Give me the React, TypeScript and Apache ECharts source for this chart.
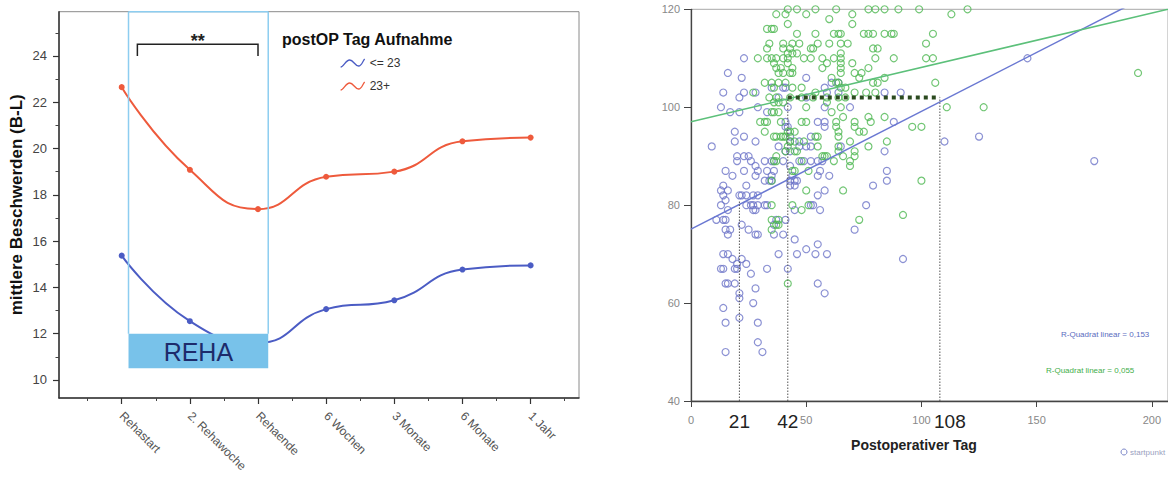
import React, { useEffect, useRef } from 'react';
import * as echarts from 'echarts';

// ---------- Left chart data ----------
const categories = ['Rehastart', '2. Rehawoche', 'Rehaende', '6 Wochen', '3 Monate', '6 Monate', '1 Jahr'];
const seriesLow = [15.37, 12.54, 11.6, 13.06, 13.44, 14.77, 14.95]; // <= 23
const seriesHigh = [22.65, 19.08, 17.38, 18.78, 19.0, 20.31, 20.47]; // 23+
const legendNames = ['<= 23', '23+'];
const leftYTicks = [10, 12, 14, 16, 18, 20, 22, 24];
const leftYMinor = [11, 13, 15, 17, 19, 21, 23, 25];
const leftXTicks = [0, 1, 2, 3, 4, 5, 6];
const leftXMinor = [-0.5, 0.5, 1.5, 2.5, 3.5, 4.5, 5.5, 6.5];
const rehaBox = [[0.1, 2.15, 10.5, 12]];
const rehaLabel = 'REHA';
const sigBracket = [[0.23, 2.0, 24.0, 24.5]];
const sigLabel = '**';

// ---------- Right chart data ----------
const rightXTicks = [0, 50, 100, 150, 200];
const rightMarkDays = [21, 42, 108];
const refVerticalTops = [81, 102, 102];
const refHorizontal = [[42, 102], [108, 102]];
const blueFit = [[0, 75.1], [207, 124.9]];
const greenFit = [[0, 97.05], [207, 120]];
const rSquaredBlue = 'R-Quadrat linear = 0,153';
const rSquaredGreen = 'R-Quadrat linear = 0,055';

const greenPoints = [
  [42,120],[46,120],[54,120],[63,120],[77,120],[80,120],[84,120],[90,120],[99,120],[120,120],
  [37,119],[41,119],[50,119],[70,119],[113,119],
  [60,118],[42,117],[70,117],
  [33,116],[35,116],[36,116],
  [46,115],[54,115],[62,115],[64,115],[65,115],[75,115],[77,115],[79,115],[84,115],[87,115],[88,115],[105,115],
  [34,113],[40,113],[44,113],[47,113],[55,113],[60,113],[65,113],[68,113],[102,113],
  [33,112],[40,112],[43,112],[52,112],[53,112],[79,112],[81,112],
  [42,111],[44,111],[46,111],[65,111],
  [29,110],[33,110],[35,110],[37,110],[40,110],[42,110],[49,110],[52,110],[57,110],[62,110],[65,110],[80,110],[88,110],[102,110],[105,110],
  [36,109],[42,109],[59,109],[65,109],[70,109],
  [37,108],[39,108],[44,108],[57,108],[65,108],[77,108],
  [38,107],[40,107],[43,107],[44,107],[65,107],[71,107],[74,107],[194,107],
  [61,106],[73,106],[84,106],
  [32,105],[35,105],[38,105],[41,105],[63,105],[64,105],[79,105],[81,105],[106,105],
  [36,104],[44,104],[48,104],[65,104],[67,104],
  [27,103],[54,103],[71,103],[76,103],[80,103],
  [34,102],[37,102],[43,102],[48,102],[53,102],[59,102],[64,102],[67,102],
  [36,101],[38,101],[40,101],[59,101],
  [50,100],[65,100],[111,100],[127,100],
  [35,99],[36,99],[38,99],[61,99],
  [66,98],[77,98],[84,98],
  [30,97],[32,97],[33,97],[39,97],[48,97],[50,97],[63,97],[71,97],[78,97],
  [63,96],[71,96],[96,96],[100,96],
  [32,95],[42,95],[43,95],[45,95],[64,95],[73,95],[75,95],
  [36,94],[37,94],[39,94],[40,94],[41,94],[54,94],[55,94],[64,94],
  [43,93],[45,93],[49,93],[69,93],[85,93],
  [42,92],[55,92],[64,92],[77,92],
  [41,91],[45,91],[46,91],[64,91],[71,91],
  [37,90],[57,90],[58,90],[59,90],[66,90],[71,90],
  [36,89],[37,89],[48,89],[62,89],[69,89],
  [69,88],[44,87],[45,87],[51,87],
  [35,85],[100,85],[50,83],[66,83],
  [35,80],[44,80],[51,80],[48,79],[92,78],
  [35,77],[38,77],[73,77],[37,76],[38,76],[35,75],[42,64]
];

const bluePoints = [
  [23,110],[146,110],[16,107],[22,106],[50,106],[61,105],[64,105],
  [35,104],[40,104],[41,104],[58,104],
  [14,103],[23,103],[28,103],[59,103],[64,103],[84,103],[91,103],
  [21,102],[38,102],[50,102],
  [13,100],[29,100],[42,100],[58,100],[69,100],
  [17,99],[21,99],[33,99],
  [41,97],[55,97],[58,97],[88,97],
  [41,96],[42,96],[58,96],[19,95],
  [23,94],[43,94],[52,94],[125,94],
  [19,93],[28,93],[43,93],[47,93],[110,93],
  [9,92],[38,92],[47,92],[50,92],[52,92],[65,92],
  [41,91],[43,91],[84,91],
  [20,90],[23,90],[25,90],
  [20,89],[26,89],[32,89],[35,89],[36,89],[40,89],[47,89],[49,89],[52,89],[55,89],[57,89],[175,89],
  [28,88],[43,88],
  [15,87],[23,87],[29,87],[33,87],[36,87],[56,87],[85,87],
  [18,86],[28,86],[35,86],[44,86],[55,86],[60,86],
  [32,85],[34,85],[35,85],[43,85],[45,85],[46,85],[85,85],
  [14,84],[24,84],[43,84],[45,84],[79,84],
  [13,83],[16,83],[58,83],
  [14,82],[21,82],[22,82],[24,82],[27,82],[29,82],[55,82],
  [15,81],
  [13,80],[24,80],[26,80],[27,80],[29,80],[32,80],[33,80],[52,80],[53,80],[76,80],
  [16,79],[27,79],[28,79],[45,79],[56,79],
  [11,77],[14,77],[15,77],[37,77],[41,77],
  [22,76],[36,76],
  [15,75],[17,75],[25,75],[71,75],
  [16,74],[28,74],[29,74],[36,74],[40,74],
  [45,73],[55,72],[50,71],
  [14,70],[16,70],[38,70],[46,70],[54,70],[59,70],
  [18,69],[22,69],[92,69],
  [20,68],[24,68],
  [13,67],[14,67],[19,67],[20,67],[33,67],[42,67],
  [26,66],
  [15,64],[16,64],[19,64],[55,64],
  [28,63],[21,62],[58,62],[21,61],[27,60],[14,59],[21,57],[15,56],[29,56],[29,52],[15,50],[31,50]
];

const FONT = '"Liberation Sans", Arial, sans-serif';
const RED = '#ee5a3c';
const BLUE = '#4b5cc4';
const SC_BLUE = '#6e76c8';
const SC_GREEN = '#4fb852';

const wavePath = 'path://M0,9 C3,9 5,2 9,2 C13,2 14,8 18,8 C21,8 22,3 24,1';

function buildOption(): any {
  return {
    animation: false,
    backgroundColor: '#ffffff',
    textStyle: { fontFamily: FONT },
    title: {
      text: 'postOP Tag Aufnahme',
      left: 277,
      top: 26,
      textStyle: { fontSize: 16, fontWeight: 'bold', color: '#111', fontFamily: FONT }
    },
    legend: {
      data: [
        { name: legendNames[0], icon: wavePath, itemStyle: { color: 'rgba(0,0,0,0)', borderColor: BLUE, borderWidth: 1.3 } },
        { name: legendNames[1], icon: wavePath, itemStyle: { color: 'rgba(0,0,0,0)', borderColor: RED, borderWidth: 1.3 } }
      ],
      orient: 'vertical',
      left: 335,
      top: 52,
      itemGap: 11,
      itemWidth: 24,
      itemHeight: 10,
      textStyle: { fontSize: 12, color: '#333', fontFamily: FONT }
    },
    grid: [
      { left: 59, top: 11.7, width: 520, height: 386.3, show: true, borderColor: '#8a8a8a', borderWidth: 1, backgroundColor: 'transparent' },
      { left: 691, top: 9.3, width: 477, height: 391.7, show: true, borderColor: '#a8a8a8', borderWidth: 1, backgroundColor: 'transparent' }
    ],
    xAxis: [
      {
        type: 'value', gridIndex: 0, min: -0.92, max: 6.71, position: 'bottom',
        splitLine: { show: false },
        axisLine: { show: true, onZero: false, lineStyle: { color: '#333', width: 1.5 } },
        axisTick: { show: true, customValues: leftXTicks, length: 6, lineStyle: { color: '#333', width: 1.2 } },
        axisLabel: {
          customValues: leftXTicks, rotate: -45, margin: 16, fontSize: 12, color: '#555',
          formatter: (v: number) => categories[Math.round(v)] ?? ''
        }
      },
      {
        type: 'value', gridIndex: 0, min: -0.92, max: 6.71, position: 'bottom',
        splitLine: { show: false },
        axisLine: { show: false, onZero: false },
        axisTick: { show: true, customValues: leftXMinor, length: 3, lineStyle: { color: '#444', width: 1 } },
        axisLabel: { show: false }
      },
      {
        type: 'value', gridIndex: 1, min: 0, max: 207, position: 'bottom',
        splitLine: { show: false },
        axisLine: { show: true, onZero: false, lineStyle: { color: '#444', width: 1.3 } },
        axisTick: { show: true, customValues: rightXTicks, length: 6, lineStyle: { color: '#444' } },
        axisLabel: { customValues: rightXTicks, fontSize: 11, color: '#888', margin: 13 },
        name: 'Postoperativer Tag',
        nameLocation: 'middle',
        nameGap: 37,
        nameTextStyle: { fontSize: 14, fontWeight: 'bold', color: '#222', padding: [0, 31, 0, 0] }
      },
      {
        type: 'value', gridIndex: 1, min: 0, max: 207, position: 'bottom',
        splitLine: { show: false },
        axisLine: { show: false, onZero: false },
        axisTick: { show: false },
        axisLabel: {
          customValues: rightMarkDays, fontSize: 19, color: '#222', margin: 11,
          formatter: (v: number) => (v > 100 ? '{s|' + v + '}' : String(v)),
          rich: { s: { fontSize: 19, color: '#222', padding: [0, 0, 0, 20] } }
        }
      }
    ],
    yAxis: [
      {
        type: 'value', gridIndex: 0, min: 9.22, max: 25.91, position: 'left',
        splitLine: { show: false },
        axisLine: { show: true, onZero: false, lineStyle: { color: '#333', width: 1.5 } },
        axisTick: { show: true, customValues: leftYTicks, length: 6, lineStyle: { color: '#333', width: 1.2 } },
        axisLabel: { customValues: leftYTicks, fontSize: 13, color: '#444', margin: 12 },
        name: 'mittlere Beschwerden (B-L)',
        nameLocation: 'middle',
        nameGap: 34,
        nameRotate: 90,
        nameTextStyle: { fontSize: 17, fontWeight: 'bold', color: '#111' }
      },
      {
        type: 'value', gridIndex: 0, min: 9.22, max: 25.91, position: 'left',
        splitLine: { show: false },
        axisLine: { show: false, onZero: false },
        axisTick: { show: true, customValues: leftYMinor, length: 3.5, lineStyle: { color: '#444', width: 1 } },
        axisLabel: { show: false }
      },
      {
        type: 'value', gridIndex: 1, min: 40, max: 120, interval: 20, position: 'left',
        splitLine: { show: false },
        axisLine: { show: true, onZero: false, lineStyle: { color: '#444', width: 1.3 } },
        axisTick: { show: true, length: 7, lineStyle: { color: '#444' } },
        axisLabel: { fontSize: 11, color: '#888', margin: 11 }
      }
    ],
    graphic: [
      { type: 'text', left: 1061, top: 330, style: { text: rSquaredBlue, fontSize: 8, fill: '#5a6cc0', fontFamily: FONT } },
      { type: 'text', left: 1046, top: 366, style: { text: rSquaredGreen, fontSize: 8, fill: '#3fae4a', fontFamily: FONT } },
      { type: 'circle', shape: { cx: 1124, cy: 452, r: 3 }, style: { fill: 'none', stroke: '#7a86c8', lineWidth: 1 } },
      { type: 'text', left: 1130, top: 448, style: { text: 'startpunkt', fontSize: 8, fill: '#9aa0c0', fontFamily: FONT } }
    ],
    series: [
      {
        name: legendNames[0], type: 'line', xAxisIndex: 0, yAxisIndex: 0,
        data: seriesLow.map((v, i) => [i, v]), smooth: 0.5,
        symbol: 'circle', symbolSize: 6, z: 3,
        itemStyle: { color: BLUE }, lineStyle: { color: BLUE, width: 2 }
      },
      {
        name: legendNames[1], type: 'line', xAxisIndex: 0, yAxisIndex: 0,
        data: seriesHigh.map((v, i) => [i, v]), smooth: 0.5,
        symbol: 'circle', symbolSize: 6, z: 3,
        itemStyle: { color: RED }, lineStyle: { color: RED, width: 2 }
      },
      {
        type: 'custom', xAxisIndex: 0, yAxisIndex: 0, z: 6, silent: true,
        data: rehaBox, encode: { x: [0, 1], y: [2, 3] },
        renderItem: (params: any, api: any) => {
          const x0 = api.value(0), x1 = api.value(1), y0 = api.value(2), y1 = api.value(3);
          const a = api.coord([x0, y1]);
          const b = api.coord([x1, y0]);
          const top = params.coordSys.y;
          const edge = { stroke: '#8dcdf0', lineWidth: 1.5 };
          return {
            type: 'group',
            children: [
              { type: 'line', shape: { x1: a[0], y1: top, x2: a[0], y2: a[1] }, style: edge },
              { type: 'line', shape: { x1: b[0], y1: top, x2: b[0], y2: a[1] }, style: edge },
              { type: 'line', shape: { x1: a[0], y1: top, x2: b[0], y2: top }, style: edge },
              { type: 'rect', shape: { x: a[0], y: a[1], width: b[0] - a[0], height: b[1] - a[1] }, style: { fill: '#78c2ea' } },
              {
                type: 'text',
                style: {
                  text: rehaLabel, x: (a[0] + b[0]) / 2, y: (a[1] + b[1]) / 2 + 1,
                  align: 'center', verticalAlign: 'middle', fontSize: 25, fill: '#1d2b6b', fontFamily: FONT
                }
              }
            ]
          };
        }
      },
      {
        type: 'custom', xAxisIndex: 0, yAxisIndex: 0, z: 6, silent: true,
        data: sigBracket, encode: { x: [0, 1], y: [2, 3] },
        renderItem: (params: any, api: any) => {
          const x0 = api.value(0), x1 = api.value(1), yb = api.value(2), yt = api.value(3);
          const p1 = api.coord([x0, yb]);
          const p2 = api.coord([x0, yt]);
          const p3 = api.coord([x1, yt]);
          const p4 = api.coord([x1, yb]);
          return {
            type: 'group',
            children: [
              { type: 'polyline', shape: { points: [p1, p2, p3, p4] }, style: { stroke: '#222', lineWidth: 1.5, fill: 'none' } },
              {
                type: 'text',
                style: {
                  text: sigLabel, x: (p2[0] + p3[0]) / 2, y: p2[1] + 6,
                  align: 'center', verticalAlign: 'bottom', fontSize: 18, fontWeight: 'bold', fill: '#222', fontFamily: FONT
                }
              }
            ]
          };
        }
      },
      // right chart
      {
        type: 'scatter', xAxisIndex: 2, yAxisIndex: 2, data: bluePoints,
        symbol: 'circle', symbolSize: 7, z: 2,
        itemStyle: { color: 'rgba(255,255,255,0)', borderColor: SC_BLUE, borderWidth: 1.2 }
      },
      {
        type: 'scatter', xAxisIndex: 2, yAxisIndex: 2, data: greenPoints,
        symbol: 'circle', symbolSize: 7, z: 2,
        itemStyle: { color: 'rgba(255,255,255,0)', borderColor: SC_GREEN, borderWidth: 1.2 }
      },
      {
        type: 'line', xAxisIndex: 2, yAxisIndex: 2, data: blueFit, symbol: 'none', z: 3,
        lineStyle: { color: '#6a78d2', width: 1.5 }
      },
      {
        type: 'line', xAxisIndex: 2, yAxisIndex: 2, data: greenFit, symbol: 'none', z: 3,
        lineStyle: { color: '#5cc07a', width: 1.5 }
      },
      ...rightMarkDays.map((d, i) => ({
        type: 'line', xAxisIndex: 2, yAxisIndex: 2, data: [[d, 40], [d, refVerticalTops[i]]],
        symbol: 'none', z: 4,
        lineStyle: { color: '#555', width: 1, type: [1.5, 1.5] }
      })),
      {
        type: 'line', xAxisIndex: 2, yAxisIndex: 2, data: refHorizontal, symbol: 'none', z: 5,
        lineStyle: { color: '#2b4a1f', width: 4, type: [4, 4] }
      }
    ]
  };
}

export default function App() {
  const ref = useRef<HTMLDivElement>(null);
  useEffect(() => {
    if (!ref.current) return;
    const chart = echarts.init(ref.current, null, { renderer: 'svg' });
    chart.setOption(buildOption());
    return () => chart.dispose();
  }, []);
  return (
    <div
      ref={ref}
      style={{ position: 'fixed', left: 0, top: 0, width: 1168, height: 484, background: '#fff' }}
    />
  );
}
